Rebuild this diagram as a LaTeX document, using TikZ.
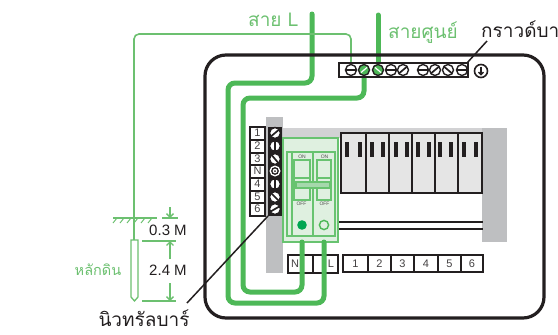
\documentclass[tikz,border=0pt]{standalone}
\usepackage{fontspec}
\setmainfont{Liberation Sans}
\newfontfamily\thaifont[Script=Thai]{Loma}
\usetikzlibrary{arrows.meta}
\definecolor{wg}{HTML}{4DB857}
\definecolor{tg}{HTML}{6CC070}
\definecolor{pale}{HTML}{DFF0E0}
\definecolor{midg}{HTML}{A5D8AC}
\definecolor{gbar}{HTML}{BEBFC1}
\definecolor{ink}{HTML}{231F20}
\definecolor{dot}{HTML}{00A651}
\tikzset{
  thickwire/.style={draw=wg,line width=5pt,rounded corners=7pt,line cap=round},
  thinwire/.style={draw=tg,line width=1.6pt,rounded corners=5pt},
  cellbox/.style={draw=ink,line width=2pt,fill=white},
  numtext/.style={text=ink!85,font=\fontsize{11}{12}\selectfont,inner sep=0pt},
  greentext/.style={text=tg,font=\thaifont\fontsize{19}{21}\selectfont,inner sep=0pt},
  blacktext/.style={text=ink,font=\thaifont\fontsize{19}{21}\selectfont,inner sep=0pt},
  dimtext/.style={text=ink,font=\fontsize{15}{16}\selectfont,inner sep=0pt},
  tinytext/.style={text=ink!80,font=\fontsize{5}{6}\selectfont,inner sep=0pt},
  dimline/.style={draw=tg,line width=1.3pt},
  dimarrow/.style={draw=tg,line width=1.3pt,-{Straight Barb[length=3.5pt,width=7pt]}},
  greenbox/.style={draw=wg!85,line width=1.3pt,fill=pale},
}
\newcommand{\screw}[3]{%
  \fill[white] (#1,#2) circle (5.5);
  \draw[ink,line width=1.4pt] (#1,#2) circle (5.5);
  \draw[ink,line width=1.7pt,rotate around={#3:(#1,#2)}] (#1-5.5,#2) -- (#1+5.5,#2);
}
\newcommand{\gscrew}[3]{%
  \fill[wg] (#1,#2) circle (5.5);
  \draw[ink,line width=1.4pt] (#1,#2) circle (5.5);
  \draw[white,line width=1.2pt,rotate around={#3:(#1,#2)}] (#1-4,#2) -- (#1+4,#2);
}
\begin{document}
\begin{tikzpicture}[x=1pt,y=-1pt]
\useasboundingbox (0,0) rectangle (558,335);
% grey backing
\fill[gbar] (266,117) rectangle (283,273);
\fill[gbar!70] (283,128) rectangle (482,138);
\fill[gbar] (482,128) rectangle (507,242);
% six module breakers
\fill[black!10] (341,133) rectangle (482,193);
\draw[ink,line width=1.7pt] (341,133) rectangle (482,193);
\foreach \x in {366,389,412,435,458} \draw[ink,line width=1.4pt] (\x,133) -- (\x,193);
\foreach \x in {347,360,372,383,396,407,418,429,440,451,464,476}
  \fill[ink] (\x-2,142) rectangle (\x+2,157);
\draw[ink,line width=1.6pt] (336,222) -- (483,222);
\draw[ink,line width=1.6pt] (336,229) -- (483,229);
% number strip, bottom
\node[cellbox,minimum width=50pt,minimum height=18pt,inner sep=0pt] (nl) at (313,264) {};
\draw[ink,line width=1.6pt] (313,255) -- (313,273);
\node[numtext] (nlab) at (295,264) {N};
\node[numtext] (llab) at (331,264) {L};
\foreach \a/\b/\t in {343/368/1,368/391/2,391/414/3,414/438/4,438/461/5,461/483/6}{
  \draw[cellbox] (\a,255) rectangle (\b,272);
  \node[numtext] (b\t) at ({(\a+\b)/2},263.5) {\t};
}
% left number strip
\foreach \y/\t in {133/1,146/2,159/3,171/N,184/4,197/5,209/6}{
  \draw[cellbox] (250,\y-6.5) rectangle (265,\y+6.5);
  \node[numtext] (s\t) at (257.5,\y) {\t};
}
% terminal bar (black)
\fill[ink] (268,127) rectangle (282,216);
\screw{275}{133}{40}
\screw{275}{146}{90}
\screw{275}{159}{-50}
\fill[white] (275,171) circle (5.5);
\draw[ink,line width=1.3pt] (275,171) circle (3.2);
\fill[ink] (275,171) circle (1);
\screw{275}{184}{90}
\screw{275}{197}{-45}
\screw{275}{209}{30}
% main breaker
\draw[greenbox] (283,138) rectangle (338,242);
\draw[greenbox] (287,152) rectangle (335,236);
\draw[wg!85,line width=1.3pt] (292,152) -- (292,236) (313,152) -- (313,236);
\draw[wg!85,line width=1.3pt] (294,160) rectangle (310,200);
\draw[wg!85,line width=1.3pt] (317,160) rectangle (331,200);
\draw[wg!85,line width=1.3pt] (294,178) -- (310,178) (317,178) -- (331,178);
\draw[wg!85,line width=1.3pt,fill=midg] (296,182) rectangle (330,188);
\node[tinytext] (on1) at (302,157) {ON};
\node[tinytext] (on2) at (324.5,157) {ON};
\node[tinytext] (off1) at (301.5,204) {OFF};
\node[tinytext] (off2) at (324.5,204) {OFF};
\fill[dot] (302,225) circle (4.8);
\draw[wg,line width=1.4pt] (324,225) circle (4.6);
% thick wires
\coordinate (ltop) at (312,14);
\coordinate (lend) at (324,242);
\coordinate (ntop) at (378,15);
\coordinate (nscrew) at (378,70);
\coordinate (nout) at (364,70);
\coordinate (nend) at (302,242);
\draw[thickwire] (ltop) -- (312,83) -- (228,83) -- (228,303) -- (324,303) -- (lend);
\draw[thickwire] (ntop) -- (nscrew);
\draw[thickwire] (nout) -- (364,98) -- (243,98) -- (243,292) -- (302,292) -- (nend);
% thin earth wire
\coordinate (etop) at (351,66);
\coordinate (rodtop) at (134,240);
\draw[thinwire] (etop) -- (351,34) -- (134,34) -- (rodtop);
% enclosure
\draw[ink,line width=3.2pt,rounded corners=21pt] (205,55) rectangle (544,318);
% top terminal
\fill[white] (339,63) rectangle (468,77);
\draw[ink,line width=1.5pt] (339,63) rectangle (468,77);
\screw{351}{70}{0}
\gscrew{364}{70}{40}
\gscrew{378}{70}{-40}
\screw{391}{70}{0}
\screw{403}{70}{40}
\screw{423}{70}{0}
\screw{435}{70}{40}
\screw{448}{70}{-40}
\screw{462}{70}{0}
% ground symbol
\draw[ink,line width=1.6pt] (481,71) circle (6.5);
\draw[ink,line width=1.4pt,-{Straight Barb[length=2.5pt,width=5pt]}] (481,66.5) -- (481,75.5);
% ground & rod
\coordinate (gl) at (113,218);
\coordinate (gr) at (157,218);
\draw[dimline] (gl) -- (gr);
\foreach \x in {117,124,131,138,145,152}
  \draw[tg,line width=1pt] (\x,218) -- (\x-4,223);
\draw[draw=tg,line width=1.3pt,fill=white] (131,240) -- (138,240) -- (138,297) -- (134.5,301) -- (131,297) -- cycle;
% dimensions
\coordinate (d1) at (170,207);
\coordinate (d2) at (170,218);
\coordinate (d3) at (170,241);
\coordinate (d4) at (170,301);
\draw[dimarrow] (d1) -- (d2);
\draw[dimline] (162,218) -- (178,218);
\draw[dimline] (142,241) -- (176,241);
\draw[dimline] (142,301) -- (176,301);
\draw[dimarrow] (170,259) -- (d3);
\draw[dimarrow] (170,283) -- (d4);
\node[dimtext] (m1) at (168,230.5) {0.3 M};
\node[dimtext] (m2) at (168,270) {2.4 M};
% labels
\node[greentext,anchor=west] (lab-l) at (248,20) {สาย L};
\node[greentext,anchor=west] (lab-n) at (388,33) {สายศูนย์};
\node[blacktext,anchor=west] (lab-g) at (481,29) {กราวด์บา};
\node[greentext,font=\thaifont\fontsize{14.5}{16}\selectfont,anchor=center] (lab-rod) at (98,270) {หลักดิน};
\node[blacktext,anchor=center] (lab-b) at (144,318) {นิวทรัลบาร์};
% leaders
\coordinate (t1) at (467,63);
\coordinate (t2) at (487,41);
\coordinate (b1) at (268,216);
\coordinate (b2) at (187,303);
\draw[ink,line width=1.5pt] (t1) -- (t2);
\draw[ink,line width=1.5pt] (b1) -- (b2);
\end{tikzpicture}
\end{document}
